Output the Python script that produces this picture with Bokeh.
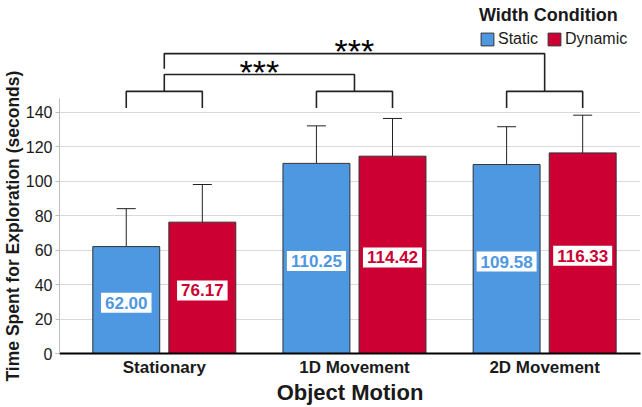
import math
from bokeh.plotting import figure
from bokeh.models import (Range1d, FixedTicker, ColumnDataSource, Label, Whisker,
                          TeeHead, Legend, LegendItem, Title)
from bokeh.embed import file_html
from bokeh.resources import INLINE
from bokeh.core.properties import value

# ---------------- data ----------------
categories = ["Stationary", "1D Movement", "2D Movement"]
series_names = ["Static", "Dynamic"]
static_mean = [62.00, 110.25, 109.58]
dynamic_mean = [76.17, 114.42, 116.33]
static_lo = [40.0, 88.6, 87.9]
static_hi = [84.0, 132.0, 131.5]
dynamic_lo = [54.4, 92.7, 94.6]
dynamic_hi = [98.0, 136.3, 138.2]
y_ticks = [0, 20, 40, 60, 80, 100, 120, 140]
comparisons = [(0, 1), (0, 2)]          # significant group pairs
sig_labels = ["***", "***"]

# ---------------- style ----------------
FONT = "Liberation Sans"
BLUE = "#4e98e2"
RED = "#cc0033"
DARK = "#222222"
OFFSET = 0.2
BAR_W = 0.352

p = figure(width=642, height=407, output_backend="svg", toolbar_location=None,
           x_range=Range1d(-0.551, 2.504), y_range=Range1d(0, 204.7),
           min_border_left=58, min_border_right=2, min_border_top=0, min_border_bottom=53)
p.outline_line_color = None
p.background_fill_color = "white"
p.border_fill_color = "white"

# grid
p.xgrid.visible = False
p.ygrid.ticker = FixedTicker(ticks=y_ticks)
p.ygrid.grid_line_color = "#d9d9d9"
p.ygrid.grid_line_width = 1

# y axis
p.yaxis.ticker = FixedTicker(ticks=y_ticks)
p.yaxis.bounds = (0, 148)
p.yaxis.axis_line_color = "#bdbdbd"
p.yaxis.major_tick_line_color = "#bdbdbd"
p.yaxis.major_tick_out = 4
p.yaxis.major_tick_in = 0
p.yaxis.minor_tick_line_color = None
p.yaxis.minor_tick_out = 0
p.yaxis.major_label_text_font = FONT
p.yaxis.major_label_text_font_size = "16px"
p.yaxis.major_label_text_color = "#1a1a1a"
p.yaxis.major_label_standoff = 3

# y axis title (as a side title so it can be centred on the 0-148 scale)
ytitle = Title(text="Time Spent for Exploration (seconds)", align="left", offset=-28,
               text_font=FONT, text_font_size="17.5px", text_font_style="bold",
               text_color="#1a1a1a", standoff=0)
p.add_layout(ytitle, "left")

# x axis
xs = list(range(len(categories)))
p.xaxis.ticker = FixedTicker(ticks=xs)
p.xaxis.major_label_overrides = {i: c for i, c in zip(xs, categories)}
p.xaxis.axis_line_color = "black"
p.xaxis.axis_line_width = 2
p.xaxis.major_tick_line_color = None
p.xaxis.major_tick_out = 0
p.xaxis.major_tick_in = 0
p.xaxis.minor_tick_line_color = None
p.xaxis.minor_tick_out = 0
p.xaxis.major_label_text_font = FONT
p.xaxis.major_label_text_font_size = "17px"
p.xaxis.major_label_text_font_style = "bold"
p.xaxis.major_label_text_color = "#1a1a1a"
p.xaxis.major_label_standoff = 4
p.xaxis.axis_label = "Object Motion"
p.xaxis.axis_label_text_font = FONT
p.xaxis.axis_label_text_font_size = "22px"
p.xaxis.axis_label_text_font_style = "bold"
p.xaxis.axis_label_text_color = "#1a1a1a"
p.xaxis.axis_label_standoff = 0

# bars
renderers = []
for k, (means, los, his, color) in enumerate([
        (static_mean, static_lo, static_hi, BLUE),
        (dynamic_mean, dynamic_lo, dynamic_hi, RED)]):
    off = -OFFSET if k == 0 else OFFSET
    bx = [x + off for x in xs]
    src = ColumnDataSource(dict(x=bx, top=means, lo=los, hi=his))
    r = p.vbar(x="x", top="top", bottom=0, width=BAR_W, source=src,
               fill_color=color, line_color="#333333", line_width=1)
    renderers.append(r)
    w = Whisker(source=src, base="x", upper="hi", lower="lo",
                line_color=DARK, line_width=1,
                upper_head=TeeHead(size=19, line_color=DARK, line_width=1),
                lower_head=TeeHead(size=19, line_color=DARK, line_width=1))
    p.add_layout(w)
    for x, m in zip(bx, means):
        p.add_layout(Label(x=x, y=m / 2 - 1.5, text=f"{m:.2f}", text_align="center",
                           text_baseline="middle", text_font=FONT, text_font_size="17px",
                           text_font_style="bold", text_color=color,
                           background_fill_color="white", padding=4))

# significance brackets
LEG_BOTTOM, LEG_TOP = 142.4, 152.0
pair_levels = [(152.0, 161.8), (165.1, 173.9)]
bx_lines, by_lines = [], []
for g in xs:
    bx_lines.append([g - OFFSET, g - OFFSET, g + OFFSET, g + OFFSET])
    by_lines.append([LEG_BOTTOM, LEG_TOP, LEG_TOP, LEG_BOTTOM])
for (a, b), (low, high), lab in zip(comparisons, pair_levels, sig_labels):
    bx_lines.append([a, a, b, b])
    by_lines.append([low, high, high, LEG_TOP])
    p.text(x=[(a + b) / 2], y=[high + 1.7], text=[lab], text_align="center",
           text_baseline="alphabetic", text_font=value(FONT), text_font_size="34px",
           text_color="black")
p.multi_line(xs=bx_lines, ys=by_lines, line_color=DARK, line_width=1.6)

# legend
legend = Legend(items=[LegendItem(label=n, renderers=[r]) for n, r in zip(series_names, renderers)],
                title="Width Condition", orientation="horizontal", location=(420, 305))
legend.title_text_font = FONT
legend.title_text_font_size = "18px"
legend.title_text_font_style = "bold"
legend.title_text_color = "#1a1a1a"
legend.title_standoff = 4
legend.label_text_font = FONT
legend.label_text_font_size = "16px"
legend.label_text_color = "#1a1a1a"
legend.glyph_width = 16
legend.glyph_height = 16
legend.label_standoff = 3
legend.label_height = 16
legend.spacing = 8
legend.padding = 0
legend.margin = 0
legend.border_line_color = None
legend.background_fill_alpha = 0
p.add_layout(legend)

open("out.html", "w").write(file_html(p, INLINE))
